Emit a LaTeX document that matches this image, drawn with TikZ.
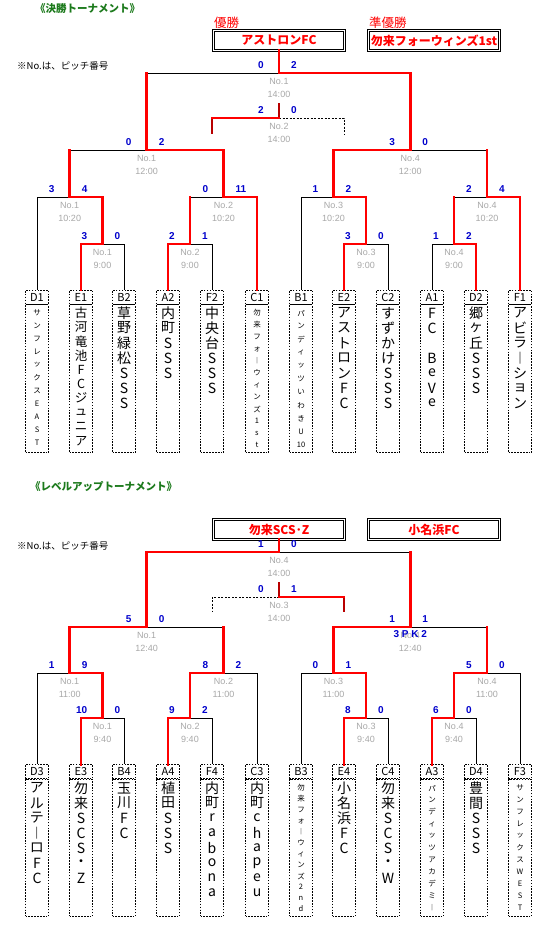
\documentclass[tikz,border=0pt]{standalone}
\usepackage{fontspec}
\setmainfont{Noto Sans CJK JP}
\newfontfamily\latfont{Liberation Sans}
\usetikzlibrary{positioning}
\definecolor{winred}{HTML}{FF0000}
\definecolor{stubred}{HTML}{B80000}
\definecolor{scoreblue}{HTML}{0000CC}
\definecolor{pitchgray}{HTML}{A8A8A8}
\definecolor{headgreen}{HTML}{1C7A1C}
\tikzset{
  win/.style    ={draw=winred, line width=2.8pt, line cap=rect},
  lose/.style   ={draw=black, line width=0.8pt},
  stub/.style   ={draw=stubred, line width=2pt},
  tbd/.style    ={draw=black, line width=0.8pt, dash pattern=on 2pt off 1.5pt},
  score/.style  ={inner sep=0pt, text=scoreblue, font=\latfont\bfseries\fontsize{10}{10}\selectfont},
  pitch/.style  ={inner sep=0pt, text=pitchgray, font=\latfont\fontsize{9}{9}\selectfont},
  dotbox/.style ={draw, line width=0.8pt, dash pattern=on 1.6pt off 1.3pt,
                  minimum width=23pt, inner sep=0pt},
  codebox/.style={dotbox, minimum height=14pt, font=\fontsize{11}{11}\selectfont},
  namebox/.style={dotbox},
  gbig/.style   ={inner sep=0pt, font=\fontsize{14}{14}\selectfont},
  gmd/.style    ={inner sep=0pt, font=\fontsize{12.5}{12.5}\selectfont},
  gsm/.style    ={inner sep=0pt, font=\fontsize{7.5}{7.5}\selectfont},
  champ/.style  ={draw, double, double distance=1.4pt, line width=0.7pt,
                  minimum width=131pt, minimum height=20pt, inner sep=0pt,
                  text=winred, font=\bfseries\fontsize{12}{12}\selectfont},
  podium/.style ={inner sep=0pt, anchor=west, text=winred, font=\fontsize{12.5}{12.5}\selectfont},
  heading/.style={inner sep=0pt, anchor=west, text=headgreen, font=\bfseries\fontsize{10.5}{10.5}\selectfont},
  note/.style   ={inner sep=0pt, anchor=west, font=\fontsize{9.5}{9.5}\selectfont},
}
% code / x / glyph size / glyph step / name, one glyph per row
\def\koteams{%
  D1/37/gsm/13/{サ,ン,フ,レ,ッ,ク,ス,E,A,S,T},
  E1/81/gmd/14.2/{古,河,竜,池,F,C,ジ,ュ,ニ,ア},
  B2/124/gbig/15/{草,野,緑,松,S,S,S},
  A2/168/gbig/15/{内,町,S,S,S},
  F2/212/gbig/15/{中,央,台,S,S,S},
  C1/257/gsm/12/{勿,来,フ,ォ,︱,ウ,ィ,ン,ズ,1,s,t},
  B1/301/gsm/13.2/{パ,ン,デ,ィ,ッ,ツ,い,わ,き,U,10},
  E2/344/gbig/15/{ア,ス,ト,ロ,ン,F,C},
  C2/388/gbig/15/{す,ず,か,け,S,S,S},
  A1/432/gbig/15/{F,C,{},B,e,V,e},
  D2/476/gbig/15/{郷,ヶ,丘,S,S,S},
  F1/520/gbig/15/{ア,ビ,ラ,︱,シ,ョ,ン}}
\def\lvteams{%
  D3/37/gbig/15/{ア,ル,テ,︱,ロ,F,C},
  E3/81/gbig/15/{勿,来,S,C,S,・,Z},
  B4/124/gbig/15/{玉,川,F,C},
  A4/168/gbig/15/{植,田,S,S,S},
  F4/212/gbig/15/{内,町,r,a,b,o,n,a},
  C3/257/gbig/15/{内,町,c,h,a,p,e,u},
  B3/301/gsm/11/{勿,来,フ,ォ,︱,ウ,ィ,ン,ズ,2,n,d},
  E4/344/gbig/15/{小,名,浜,F,C},
  C4/388/gbig/15/{勿,来,S,C,S,・,W},
  A3/432/gsm/12/{パ,ン,デ,ィ,ッ,ツ,ア,カ,デ,ミ,︱},
  D4/476/gbig/15/{豊,間,S,S,S},
  F3/520/gsm/12/{サ,ン,フ,レ,ッ,ク,ス,W,E,S,T}}
% match / x / y / left / right / styles (left bar, left drop, right bar, right drop) / scores / pitch / time
\def\kobouts{%
  koR1a/102.5/244/E1/B2/win/win/lose/lose/3/0/No.1/9:00,
  koR1b/190/244/A2/F2/win/win/lose/lose/2/1/No.2/9:00,
  koR1c/366/244/E2/C2/win/win/lose/lose/3/0/No.3/9:00,
  koR1d/454/244/A1/D2/lose/lose/win/win/1/2/No.4/9:00,
  koQFa/69.75/197/D1/koR1a/lose/lose/win/win/3/4/No.1/10:20,
  koQFb/223.5/197/koR1b/C1/lose/win/win/win/0/11/No.2/10:20,
  koQFc/333.5/197/B1/koR1c/lose/lose/win/win/1/2/No.3/10:20,
  koQFd/487/197/koR1d/F1/lose/win/win/win/2/4/No.4/10:20,
  koSFa/146.6/150/koQFa/koQFb/lose/win/win/win/0/2/No.1/12:00,
  koSFb/410.25/150/koQFc/koQFd/win/win/lose/win/3/0/No.4/12:00,
  koF/279/73/koSFa/koSFb/lose/win/win/win/0/2/No.1/14:00}
\def\lvbouts{%
  lvR1a/102.5/718/E3/B4/win/win/lose/lose/10/0/No.1/9:40,
  lvR1b/190/718/A4/F4/win/win/lose/lose/9/2/No.2/9:40,
  lvR1c/366/718/E4/C4/win/win/lose/lose/8/0/No.3/9:40,
  lvR1d/454/718/A3/D4/win/win/lose/lose/6/0/No.4/9:40,
  lvQFa/69.75/673/D3/lvR1a/lose/lose/win/win/1/9/No.1/11:00,
  lvQFb/223.5/673/lvR1b/C3/win/win/lose/lose/8/2/No.2/11:00,
  lvQFc/333.5/673/B3/lvR1c/lose/lose/win/win/0/1/No.3/11:00,
  lvQFd/487/673/lvR1d/F3/win/win/lose/lose/5/0/No.4/11:00,
  lvSFa/146.6/627/lvQFa/lvQFb/win/win/lose/win/5/0/No.1/12:40,
  lvSFb/410.25/627/lvQFc/lvQFd/win/win/lose/win/1/1/No.4/12:40,
  lvF/279/552/lvSFa/lvSFb/win/win/lose/win/1/0/No.4/14:00}
\newcommand{\teamrow}[4]{% #1 list, #2 code box y, #3 name box height, #4 first glyph y
  \foreach \tcode/\x/\tfont/\tstep/\chars in #1 {%
    \node[codebox] (\tcode) at (\x,#2) {\tcode};
    \node[namebox, minimum height=#3pt, below=0pt of \tcode] (\tcode-n) {};
    \foreach \ch [count=\i] in \chars
      {\node[\tfont] (\tcode-\i) at (\x,{#4+(\i-1)*\tstep}) {\ch};}
  }}
\newcommand{\boutrow}[1]{%
  \foreach \m/\cx/\y/\l/\r/\hl/\vl/\hr/\vr/\sl/\sr/\no/\tm in #1 {%
    \coordinate (\m) at (\cx,\y);
    \draw[\hl] (\m) -- (\l |- \m);
    \draw[\vl] (\l |- \m) -- (\l);
    \draw[\hr] (\m) -- (\r |- \m);
    \draw[\vr] (\r |- \m) -- (\r);
    \node[pitch] (\m-no) at (\cx,{\y+8}) {\no};
    \node[pitch] (\m-tm) at (\cx,{\y+21}) {\tm};
    \node[score, anchor=east] (\m-sl) at ({\cx-15},{\y-8}) {\sl};
    \node[score, anchor=west] (\m-sr) at ({\cx+12},{\y-8}) {\sr};
  }}

\begin{document}
\begin{tikzpicture}[x=1pt,y=-1pt]
  \path[fill=white, use as bounding box] (0,0) rectangle (543,930);

  %% final tournament
  \node[heading] (koHead) at (35,9) {《決勝トーナメント》};
  \node[podium] (koWinLab) at (214,22.5) {優勝};
  \node[podium] (koRunLab) at (369,22.5) {準優勝};
  \node[champ] (koChamp) at (279,40.5) {アストロンFC};
  \node[champ] (koRunner) at (434,40.5) {勿来フォーウィンズ1st};
  \node[note] (koNote) at (17,66) {※No.は、ピッチ番号};
  \teamrow{\koteams}{297}{148}{313}
  \boutrow{\kobouts}
  \draw[win] (koChamp) -- (koF);
  % third place
  \coordinate (ko3rd) at (279,118);
  \coordinate (ko3top) at (279,103);
  \coordinate (ko3L) at (212,134);
  \coordinate (ko3R) at (344,134);
  \draw[stub] (ko3top) -- (ko3rd);
  \draw[tbd] (ko3rd) -- (ko3R |- ko3rd) -- (ko3R);
  \draw[stub] (ko3L |- ko3rd) -- (ko3L);
  \draw[win] (ko3rd) -- (ko3L |- ko3rd);
  \node[pitch] (ko3rd-no) at (279,126) {No.2};
  \node[pitch] (ko3rd-tm) at (279,139) {14:00};
  \node[score, anchor=east] (ko3rd-sl) at (264,110) {2};
  \node[score, anchor=west] (ko3rd-sr) at (291,110) {0};

  %% level-up tournament
  \node[heading] (lvHead) at (30,486) {《レベルアップトーナメント》};
  \node[champ] (lvChamp) at (279,529.5) {勿来SCS･Z};
  \node[champ] (lvRunner) at (434,529.5) {小名浜FC};
  \node[note] (lvNote) at (17,546) {※No.は、ピッチ番号};
  \teamrow{\lvteams}{771.5}{137}{788}
  \boutrow{\lvbouts}
  \draw[win] (lvChamp) -- (lvF);
  \node[score] (lvPK) at (410.25,634) {3 P K 2};
  % third place
  \coordinate (lv3rd) at (279,597);
  \coordinate (lv3top) at (279,582);
  \coordinate (lv3L) at (212,612);
  \coordinate (lv3R) at (344,612);
  \draw[stub] (lv3top) -- (lv3rd);
  \draw[tbd] (lv3rd) -- (lv3L |- lv3rd) -- (lv3L);
  \draw[stub] (lv3R |- lv3rd) -- (lv3R);
  \draw[win] (lv3rd) -- (lv3R |- lv3rd);
  \node[pitch] (lv3rd-no) at (279,605) {No.3};
  \node[pitch] (lv3rd-tm) at (279,618) {14:00};
  \node[score, anchor=east] (lv3rd-sl) at (264,589) {0};
  \node[score, anchor=west] (lv3rd-sr) at (291,589) {1};
\end{tikzpicture}
\end{document}
